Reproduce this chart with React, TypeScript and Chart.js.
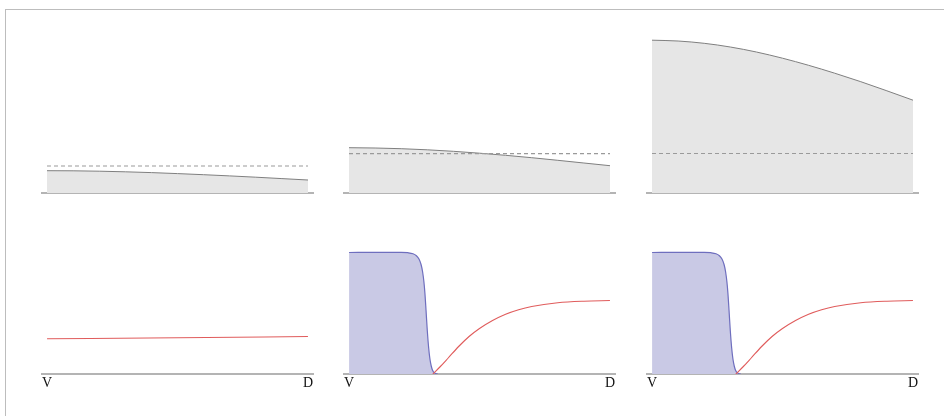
import React, { useEffect, useRef } from 'react';
import { Chart, registerables } from 'chart.js';

Chart.register(...registerables);

// ---- data (heights in px-like units above the baseline, x normalised 0..1) ----
const X_TOP = [0, 0.1, 0.2, 0.3, 0.4, 0.5, 0.6, 0.7, 0.8, 0.9, 1];
const TOP_1 = [22.3, 22.2, 21.8, 21.2, 20.4, 19.4, 18.3, 17.1, 15.8, 14.4, 13.0];
const TOP_2 = [45.3, 45.0, 44.3, 43.2, 41.7, 39.8, 37.7, 35.3, 32.7, 30.0, 27.3];
const TOP_3 = [152.8, 152.0, 149.7, 146.0, 141.0, 134.8, 127.7, 119.8, 111.3, 102.2, 92.8];
const DASH_LEVELS = [27.0, 39.3, 39.5];
const X_DASH = [0, 1];

const X_RED_FLAT = [0, 0.5, 1];
const RED_FLAT = [35.2, 36.2, 37.5];

const X_BLUE = [0, 0.1, 0.2, 0.225, 0.245, 0.258, 0.268, 0.276, 0.282, 0.287, 0.291, 0.295, 0.3, 0.305, 0.31, 0.315, 0.32, 0.328, 0.34];
const BLUE = [121.5, 121.6, 121.6, 121.3, 120.3, 118.3, 115.0, 109.5, 102.0, 92.0, 80.0, 64.0, 43.0, 26.5, 15.0, 8.0, 3.8, 1.0, 0];

const X_RED = [0.321, 0.35, 0.38, 0.42, 0.46, 0.5, 0.55, 0.6, 0.65, 0.7, 0.8, 0.9, 1];
const RED = [0, 7.5, 16, 27.5, 37.5, 45.5, 53.5, 59.8, 64.3, 67.5, 71.2, 72.8, 73.5];

const AXIS_LABELS = ['V', 'D'];

const PAD = 6 / 261;

const pts = (xs: number[], ys: number[]) => xs.map((x, i) => ({ x, y: ys[i] }));
const flat = (xs: number[], v: number) => xs.map((x) => ({ x, y: v }));

const grayArea = (ys: number[]) => ({
  data: pts(X_TOP, ys),
  fill: 'origin',
  backgroundColor: '#e6e6e6',
  borderColor: '#7f7f7f',
  borderWidth: 1,
  order: 2,
});
const dashed = (v: number) => ({
  data: flat(X_DASH, v),
  fill: false,
  borderColor: '#9a9a9a',
  borderWidth: 1.2,
  borderDash: [4, 3],
  order: 1,
});
const blueArea = () => ({
  data: pts(X_BLUE, BLUE),
  fill: 'origin',
  backgroundColor: '#c9c9e5',
  borderColor: '#6e6ebe',
  borderWidth: 1.2,
  order: 2,
});
const redLine = (xs: number[], ys: number[]) => ({
  data: pts(xs, ys),
  fill: false,
  borderColor: '#e05c5c',
  borderWidth: 1.1,
  order: 1,
});

type PanelProps = {
  left: number;
  top: number;
  width: number;
  yMax: number;
  axisH: number;
  labels: boolean;
  datasets: any[];
};

function Panel(p: PanelProps) {
  const ref = useRef<HTMLCanvasElement>(null);
  useEffect(() => {
    const chart = new Chart(ref.current as HTMLCanvasElement, {
      type: 'line',
      data: { datasets: p.datasets },
      options: {
        animation: false,
        responsive: false,
        devicePixelRatio: 1,
        layout: { padding: 0 },
        plugins: { legend: { display: false }, tooltip: { enabled: false } },
        elements: {
          point: { radius: 0, hoverRadius: 0 },
          line: { cubicInterpolationMode: 'monotone' },
        },
        scales: {
          x: {
            type: 'linear',
            min: -PAD,
            max: 1 + PAD,
            grid: { display: false, drawTicks: false },
            border: { display: true, color: '#b4b4b4', width: 2 },
            ticks: {
              display: p.labels,
              padding: 1,
              autoSkip: false,
              maxRotation: 0,
              color: '#111',
              font: { family: '"Liberation Serif", "DejaVu Serif", serif', size: 14 },
              callback: (_v: any, i: number) => AXIS_LABELS[i] ?? '',
            },
            afterBuildTicks: (s: any) => {
              s.ticks = [{ value: 0 }, { value: 1 }];
            },
            afterFit: (s: any) => {
              s.height = p.axisH;
            },
          },
          y: { display: false, min: 0, max: p.yMax },
        },
      } as any,
    });
    return () => chart.destroy();
  }, []);
  return (
    <canvas
      ref={ref}
      width={p.width}
      height={p.yMax + p.axisH}
      style={{ position: 'absolute', left: p.left, top: p.top }}
    />
  );
}

const LEFTS = [41, 343, 646];
const TOP_BASE = 193;
const BOT_BASE = 374;
const TOP_YMAX = 165;
const BOT_YMAX = 130;

export default function App() {
  return (
    <div
      style={{
        position: 'absolute',
        left: 0,
        top: 0,
        width: 944,
        height: 416,
        overflow: 'hidden',
        background: '#fff',
      }}
    >
      <div
        style={{
          position: 'absolute',
          left: 5,
          top: 8.5,
          width: 1200,
          height: 800,
          borderLeft: '1px solid #bdbdbd',
          borderTop: '1.5px solid #bdbdbd',
        }}
      />
      <Panel left={LEFTS[0]} top={TOP_BASE - TOP_YMAX} width={273} yMax={TOP_YMAX} axisH={4} labels={false}
        datasets={[grayArea(TOP_1), dashed(DASH_LEVELS[0])]} />
      <Panel left={LEFTS[1]} top={TOP_BASE - TOP_YMAX} width={273} yMax={TOP_YMAX} axisH={4} labels={false}
        datasets={[grayArea(TOP_2), dashed(DASH_LEVELS[1])]} />
      <Panel left={LEFTS[2]} top={TOP_BASE - TOP_YMAX} width={273} yMax={TOP_YMAX} axisH={4} labels={false}
        datasets={[grayArea(TOP_3), dashed(DASH_LEVELS[2])]} />
      <Panel left={LEFTS[0]} top={BOT_BASE - BOT_YMAX} width={273} yMax={BOT_YMAX} axisH={30} labels={true}
        datasets={[redLine(X_RED_FLAT, RED_FLAT)]} />
      <Panel left={LEFTS[1]} top={BOT_BASE - BOT_YMAX} width={273} yMax={BOT_YMAX} axisH={30} labels={true}
        datasets={[blueArea(), redLine(X_RED, RED)]} />
      <Panel left={LEFTS[2]} top={BOT_BASE - BOT_YMAX} width={273} yMax={BOT_YMAX} axisH={30} labels={true}
        datasets={[blueArea(), redLine(X_RED, RED)]} />
    </div>
  );
}
